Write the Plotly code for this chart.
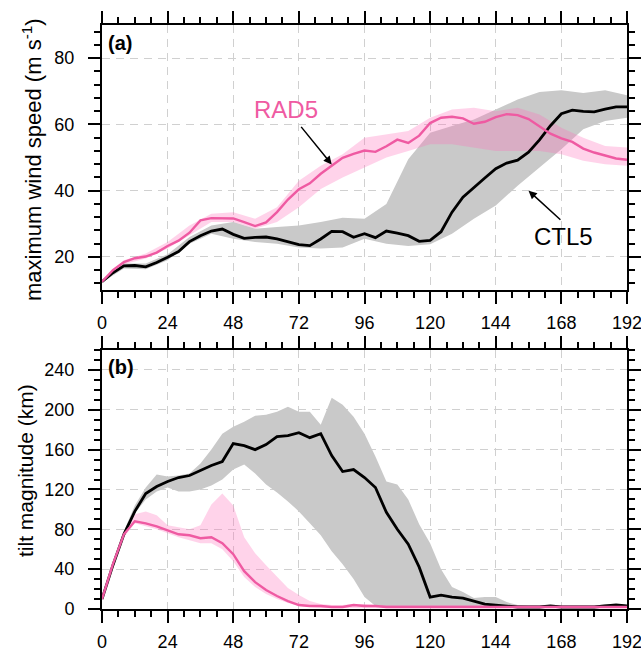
import plotly.graph_objects as go

# ---------------- data ----------------
HOURS = list(range(0, 193, 4))
BAND_HOURS = list(range(0, 193, 8))
X_TICKS = list(range(0, 193, 24))

CTL5_WIND = [12.5, 15.2, 17.3, 17.4, 17.0, 18.3, 19.9, 21.6, 24.6, 26.4, 27.8, 28.4, 26.8,
             25.6, 25.9, 26.0, 25.4, 24.5, 23.7, 23.4, 25.4, 27.7, 27.6, 25.9, 27.0, 25.8,
             27.8, 27.2, 26.4, 24.7, 25.0, 27.6, 33.5, 38.0, 41.0, 43.8, 46.6, 48.3, 49.2,
             51.6, 55.3, 59.6, 63.2, 64.3, 63.9, 63.8, 64.6, 65.3, 65.3]
RAD5_WIND = [12.5, 16.0, 18.4, 19.6, 20.1, 21.3, 23.3, 24.9, 27.3, 31.0, 31.7, 31.6, 31.6,
             30.5, 29.3, 30.4, 33.5, 37.3, 40.4, 42.2, 45.1, 47.5, 49.9, 51.1, 52.1, 51.7,
             53.4, 55.4, 54.4, 56.6, 60.4, 62.0, 62.3, 61.8, 60.2, 60.8, 62.2, 63.1, 62.8,
             61.6, 59.4, 57.2, 55.8, 54.7, 52.7, 51.5, 50.6, 49.7, 49.3]

CTL5_WIND_LOW = [12.3, 16.5, 16.3, 19.0, 24.0, 27.0, 25.5, 24.5, 24.0, 22.8, 22.5, 22.8, 25.5,
                 24.0, 23.3, 23.8, 27.0, 31.5, 35.5, 41.5, 47.0, 52.5, 58.5, 61.0, 62.0]
CTL5_WIND_HIGH = [12.8, 18.0, 18.0, 20.8, 26.0, 29.5, 30.5, 28.5, 29.0, 29.5, 30.5, 31.8, 31.5,
                  36.0, 49.5, 57.5, 59.5, 61.5, 64.5, 67.5, 69.8, 70.3, 69.5, 70.3, 68.8]
RAD5_WIND_LOW = [12.3, 17.8, 19.5, 22.5, 26.5, 30.5, 30.5, 28.5, 30.5, 35.0, 40.5, 44.0, 47.0,
                 50.0, 52.0, 54.0, 54.0, 53.0, 52.0, 52.0, 52.0, 51.0, 49.0, 48.0, 47.5]
RAD5_WIND_HIGH = [12.8, 19.0, 21.0, 24.5, 29.5, 33.0, 33.5, 31.5, 35.0, 43.0, 47.5, 51.0, 56.0,
                  57.0, 58.0, 62.0, 64.5, 65.0, 64.0, 65.0, 63.0, 59.0, 56.0, 53.5, 53.0]

CTL5_TILT = [10, 44, 75, 98, 116, 123, 128, 132, 134, 139, 144, 148, 166, 164, 160, 165, 173,
             174, 177, 172, 176, 154, 138, 140, 132, 122, 97, 80, 65, 42, 12, 14, 12, 11, 8, 5,
             4, 3, 2, 2, 2, 3, 2, 2, 2, 2, 3, 4, 3]
RAD5_TILT = [10, 45, 75, 88, 86, 83, 79, 75, 74, 71, 72, 66, 55, 38, 27, 19, 13, 8, 4, 3, 3, 2,
             2, 4, 3, 3, 2, 2, 2, 2, 2, 2, 2, 2, 2, 2, 2, 2, 2, 2, 2, 2, 2, 2, 2, 2, 2, 2, 2]

CTL5_TILT_LOW = [10, 42, 72, 96, 110, 118, 122, 118, 118, 120, 124, 130, 140, 145, 136, 125,
                 117, 108, 98, 86, 74, 58, 45, 30, 12, 3, 1, 1, 1, 1, 1, 1, 1, 1, 1, 1, 1, 1,
                 1, 1, 1, 1, 1, 1, 1, 1, 1, 1, 1]
CTL5_TILT_HIGH = [10, 46, 78, 104, 122, 135, 133, 134, 136, 146, 160, 176, 183, 188, 194, 195,
                  198, 203, 198, 198, 185, 212, 205, 193, 176, 153, 128, 125, 110, 85, 66, 40,
                  22, 17, 11, 12, 12, 7, 4, 3, 3, 3, 3, 3, 3, 3, 5, 5, 4]
RAD5_TILT_LOW = [10, 42, 72, 86, 83, 80, 76, 72, 69, 66, 66, 60, 48, 32, 22, 15, 10, 6, 3, 2,
                 1, 1, 1, 1, 1, 1, 1, 1, 1, 1, 1, 1, 1, 1, 1, 1, 1, 1, 1, 1, 1, 1, 1, 1, 1, 1,
                 1, 1, 1]
RAD5_TILT_HIGH = [10, 46, 78, 95, 98, 94, 84, 82, 80, 84, 105, 116, 104, 72, 56, 44, 32, 21,
                  14, 8, 5, 4, 4, 5, 5, 4, 4, 4, 4, 4, 4, 4, 4, 4, 4, 4, 4, 4, 4, 4, 4, 4, 4,
                  4, 4, 4, 4, 4, 4]

# ---------------- styles ----------------
PINK = "#EF5AA2"
PINK_FILL = "rgba(255,110,185,0.30)"
GRAY_FILL = "#C9C9C9"
FONT = "Liberation Sans, Arial, Helvetica, sans-serif"
W, H = 641, 653


def px_x(p):
    return p / W


def px_y(p):
    return 1 - p / H


fig = go.Figure()


def add_band(t, lo, hi, color, xa, ya):
    fig.add_trace(go.Scatter(x=t, y=lo, mode="lines", line=dict(width=0, color=color),
                             xaxis=xa, yaxis=ya, hoverinfo="skip", showlegend=False))
    fig.add_trace(go.Scatter(x=t, y=hi, mode="lines", line=dict(width=0, color=color),
                             fill="tonexty", fillcolor=color,
                             xaxis=xa, yaxis=ya, hoverinfo="skip", showlegend=False))


def add_line(t, v, color, width, xa, ya):
    fig.add_trace(go.Scatter(x=t, y=v, mode="lines", line=dict(width=width, color=color),
                             xaxis=xa, yaxis=ya, showlegend=False))


# panel (a)
add_band(BAND_HOURS, CTL5_WIND_LOW, CTL5_WIND_HIGH, GRAY_FILL, "x", "y")
add_band(BAND_HOURS, RAD5_WIND_LOW, RAD5_WIND_HIGH, PINK_FILL, "x", "y")
add_line(HOURS, CTL5_WIND, "black", 2.8, "x", "y")
add_line(HOURS, RAD5_WIND, PINK, 2.4, "x", "y")

# panel (b)
add_band(HOURS, CTL5_TILT_LOW, CTL5_TILT_HIGH, GRAY_FILL, "x2", "y2")
add_band(HOURS, RAD5_TILT_LOW, RAD5_TILT_HIGH, PINK_FILL, "x2", "y2")
add_line(HOURS, CTL5_TILT, "black", 2.8, "x2", "y2")
add_line(HOURS, RAD5_TILT, PINK, 2.4, "x2", "y2")

common_axis = dict(
    showline=True, linecolor="black", linewidth=2, mirror="allticks",
    ticks="outside", ticklen=12, tickwidth=1.5, tickcolor="black",
    showgrid=True, gridcolor="#D0D0D0", gridwidth=1, griddash="8px,6px",
    zeroline=False, tickfont=dict(family=FONT, size=18, color="black"),
    ticklabeloverflow="allow", automargin=False,
)

xdom = [px_x(102), px_x(627)]
xcommon = dict(common_axis, range=[0, 192], tickvals=X_TICKS, ticktext=[str(v) for v in X_TICKS],
               ticklabelstandoff=3,
               minor=dict(dtick=6, tick0=0, ticks="outside", ticklen=6, tickwidth=1.5,
                          tickcolor="black", showgrid=False))

fig.update_layout(
    width=W, height=H, margin=dict(l=0, r=0, t=0, b=0, autoexpand=False),
    paper_bgcolor="white", plot_bgcolor="white", showlegend=False,
    xaxis=dict(xcommon, domain=xdom, anchor="y"),
    yaxis=dict(common_axis, domain=[px_y(290), px_y(25)], range=[10, 90],
               tickvals=[20, 40, 60, 80], anchor="x", ticklabelstandoff=10,
               minor=dict(dtick=4, tick0=0, ticks="outside", ticklen=6, tickwidth=1.5,
                          tickcolor="black", showgrid=False)),
    xaxis2=dict(xcommon, domain=xdom, anchor="y2"),
    yaxis2=dict(common_axis, domain=[px_y(609), px_y(350)], range=[0, 260],
                tickvals=[0, 40, 80, 120, 160, 200, 240], anchor="x2", ticklabelstandoff=10,
                minor=dict(dtick=10, tick0=0, ticks="outside", ticklen=6, tickwidth=1.5,
                           tickcolor="black", showgrid=False)),
)

annots = [
    dict(text="<b>(a)</b>", xref="paper", yref="paper", x=px_x(106), y=px_y(43),
         xanchor="left", yanchor="middle", showarrow=False,
         font=dict(family=FONT, size=20, color="black")),
    dict(text="<b>(b)</b>", xref="paper", yref="paper", x=px_x(106), y=px_y(367),
         xanchor="left", yanchor="middle", showarrow=False,
         font=dict(family=FONT, size=20, color="black")),
    dict(text="maximum wind speed (m s<sup>-1</sup>)", xref="paper", yref="paper",
         x=px_x(32), y=px_y(160), textangle=-90, showarrow=False,
         xanchor="center", yanchor="middle",
         font=dict(family=FONT, size=22, color="black")),
    dict(text="tilt magnitude (km)", xref="paper", yref="paper",
         x=px_x(25), y=px_y(471), textangle=-90, showarrow=False,
         xanchor="center", yanchor="middle",
         font=dict(family=FONT, size=21, color="black")),
    dict(text="RAD5", xref="x", yref="y", x=67.3, y=64.6, showarrow=False,
         xanchor="center", yanchor="middle",
         font=dict(family=FONT, size=24, color=PINK)),
    dict(text="", xref="x", yref="y", x=84, y=47.9, axref="x", ayref="y", ax=72.4, ay=59.7,
         showarrow=True, arrowhead=2, arrowsize=1.1, arrowwidth=1.5, arrowcolor="black",
         standoff=0),
    dict(text="CTL5", xref="x", yref="y", x=168.7, y=26.3, showarrow=False,
         xanchor="center", yanchor="middle",
         font=dict(family=FONT, size=24, color="black")),
    dict(text="", xref="x", yref="y", x=156, y=40, axref="x", ayref="y", ax=168.2, ay=30.8,
         showarrow=True, arrowhead=2, arrowsize=1.1, arrowwidth=1.5, arrowcolor="black",
         standoff=0),
]
fig.update_layout(annotations=annots)

fig.write_html("out.html")
